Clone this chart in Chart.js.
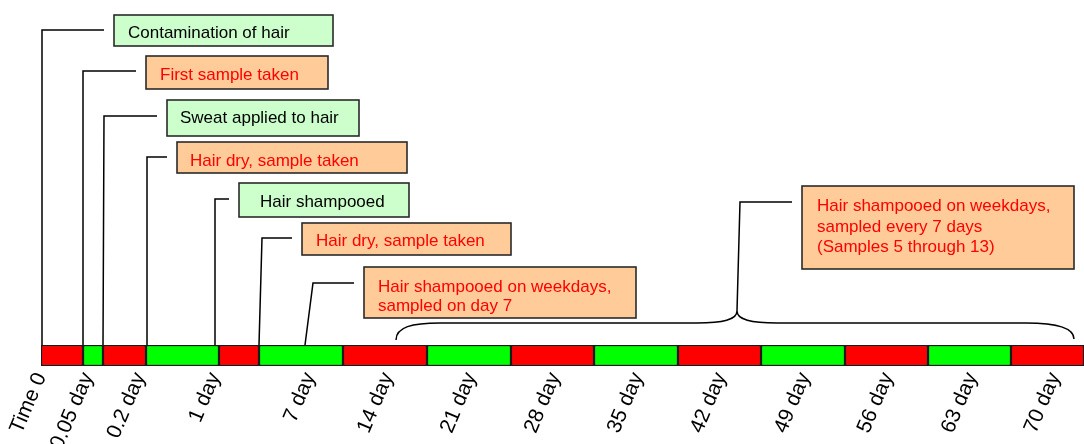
<!DOCTYPE html>
<html><head><meta charset="utf-8">
<script src="https://cdn.jsdelivr.net/npm/chart.js@4.4.1/dist/chart.umd.min.js"></script>
<style>html,body{margin:0;padding:0;background:#fff;}canvas{display:block;}</style>
</head><body>
<canvas id="c" width="1084" height="444"></canvas>
<script>
// ---- DATA ----
// schematic timeline: consecutive segment lengths (display units) and their phase (0 = red, 1 = green)
const segmentLengths = [42, 20, 43, 73, 40, 84, 84, 84, 83, 84, 83, 84, 83, 83, 73];
const segmentPhase   = [0, 1, 0, 1, 0, 1, 0, 1, 0, 1, 0, 1, 0, 1, 0];
// axis tick labels and where they sit on the timeline
const tickLabels    = ['Time 0', '0.05 day', '0.2 day', '1 day', '7 day', '14 day', '21 day', '28 day', '35 day', '42 day', '49 day', '56 day', '63 day', '70 day'];
const tickPositions = [0, 47, 99, 174, 269, 347, 430, 514, 597, 680, 764, 847, 931, 1014];
// events (callouts)
const eventLabels  = ['Contamination of hair', 'First sample taken', 'Sweat applied to hair', 'Hair dry, sample taken', 'Hair shampooed', 'Hair dry, sample taken', 'Hair shampooed on weekdays,\nsampled on day 7', 'Hair shampooed on weekdays,\nsampled every 7 days\n(Samples 5 through 13)'];
const eventKinds   = ['treatment', 'sample', 'treatment', 'sample', 'treatment', 'sample', 'sample', 'sample'];
const eventAnchors = [1, 42, 62, 106, 174, 218, 264, 696];
const braceRange   = [355, 1033];

// ---- STYLE / LAYOUT ----
const phaseColors = ['#ff0000', '#00ff00'];
const kindFill = { treatment: '#ccffcc', sample: '#ffcc99' };
const kindText = { treatment: '#000000', sample: '#ff0000' };
const FONT = '"Liberation Sans", Arial, Helvetica, sans-serif';
// box geometry relative to anchor pixel: dx = box left - anchor, y, w, h, text pad, first baseline, line height, leader elbow y, leader slant
const calloutLayout = [
  { dx: 72, y: 15,  w: 219, h: 31, pad: 14, ty: 23, lh: 20, elbowY: 30,  slant: 0 },
  { dx: 63, y: 56,  w: 182, h: 33, pad: 14, ty: 24, lh: 20, elbowY: 71,  slant: 0 },
  { dx: 64, y: 100, w: 192, h: 36, pad: 13, ty: 23, lh: 20, elbowY: 116, slant: 1 },
  { dx: 30, y: 142, w: 230, h: 31, pad: 13, ty: 24, lh: 20, elbowY: 157, slant: 0 },
  { dx: 24, y: 183, w: 170, h: 34, pad: 21, ty: 24, lh: 20, elbowY: 199, slant: 0 },
  { dx: 43, y: 223, w: 209, h: 32, pad: 14, ty: 23, lh: 20, elbowY: 238, slant: 3 },
  { dx: 59, y: 267, w: 272, h: 51, pad: 14, ty: 25, lh: 19, elbowY: 283, slant: 8 },
  { dx: 65, y: 186, w: 272, h: 83, pad: 15, ty: 25, lh: 20.5, elbowY: 202, slant: 3, fromY: 311 }
];

const calloutPlugin = {
  id: 'callouts',
  afterDraw(chart) {
    const ctx = chart.ctx, xs = chart.scales.x, top = chart.chartArea.top;
    ctx.save();
    // brace over the weekly segments
    const b0 = xs.getPixelForValue(braceRange[0]);
    const b1 = xs.getPixelForValue(braceRange[1]);
    const tip = xs.getPixelForValue(eventAnchors[7]);
    const lvl = top - 22, tipY = top - 34, endY = top - 5;
    ctx.strokeStyle = '#000'; ctx.lineWidth = 1.5;
    ctx.beginPath();
    ctx.moveTo(b0, endY);
    ctx.bezierCurveTo(b0, lvl + 4, b0 + 16, lvl, b0 + 44, lvl);
    ctx.lineTo(tip - 40, lvl);
    ctx.bezierCurveTo(tip - 14, lvl, tip, lvl - 3, tip, tipY);
    ctx.bezierCurveTo(tip, lvl - 3, tip + 14, lvl, tip + 40, lvl);
    ctx.lineTo(b1 - 48, lvl);
    ctx.bezierCurveTo(b1 - 18, lvl, b1, lvl + 5, b1, endY - 1);
    ctx.stroke();

    eventLabels.forEach((txt, i) => {
      const L = calloutLayout[i];
      const ax = xs.getPixelForValue(eventAnchors[i]);
      const bx = ax + L.dx;
      ctx.strokeStyle = '#000'; ctx.lineWidth = 1.5;
      ctx.beginPath();
      ctx.moveTo(ax, L.fromY !== undefined ? L.fromY : top);
      ctx.lineTo(ax + L.slant, L.elbowY);
      ctx.lineTo(bx - 10, L.elbowY);
      ctx.stroke();
      ctx.fillStyle = kindFill[eventKinds[i]];
      ctx.fillRect(bx, L.y, L.w, L.h);
      ctx.strokeStyle = '#2a2a2a'; ctx.lineWidth = 1.6;
      ctx.strokeRect(bx, L.y, L.w, L.h);
      ctx.fillStyle = kindText[eventKinds[i]];
      ctx.font = '17px ' + FONT;
      ctx.textAlign = 'left'; ctx.textBaseline = 'alphabetic';
      txt.split('\n').forEach((line, k) => {
        ctx.fillText(line, bx + L.pad, L.y + L.ty + k * L.lh);
      });
    });
    ctx.restore();
  }
};

const datasets = segmentLengths.map((len, i) => ({
  label: 'segment ' + (i + 1),
  data: [len],
  backgroundColor: phaseColors[segmentPhase[i]],
  borderColor: '#1a1a1a',
  borderWidth: 1.5,
  borderSkipped: false,
  barPercentage: 1,
  categoryPercentage: 1
}));
const total = segmentLengths.reduce((a, b) => a + b, 0);

new Chart(document.getElementById('c'), {
  type: 'bar',
  data: { labels: ['timeline'], datasets },
  options: {
    indexAxis: 'y',
    responsive: false,
    animation: false,
    devicePixelRatio: 1,
    layout: { padding: { top: 345, left: 41, right: 0, bottom: 0 } },
    plugins: { legend: { display: false }, tooltip: { enabled: false } },
    scales: {
      x: {
        type: 'linear', stacked: true, min: 0, max: total,
        grid: { display: false, drawTicks: false },
        border: { display: false },
        afterBuildTicks(scale) { scale.ticks = tickPositions.map(v => ({ value: v })); },
        afterFit(scale) { scale.height = 78; },
        ticks: {
          autoSkip: false, minRotation: 67, maxRotation: 67, padding: 3,
          color: '#000', font: { family: FONT, size: 21 },
          callback: (v, idx) => tickLabels[idx]
        }
      },
      y: { display: false, stacked: true }
    }
  },
  plugins: [calloutPlugin]
});
</script>
</body></html>
